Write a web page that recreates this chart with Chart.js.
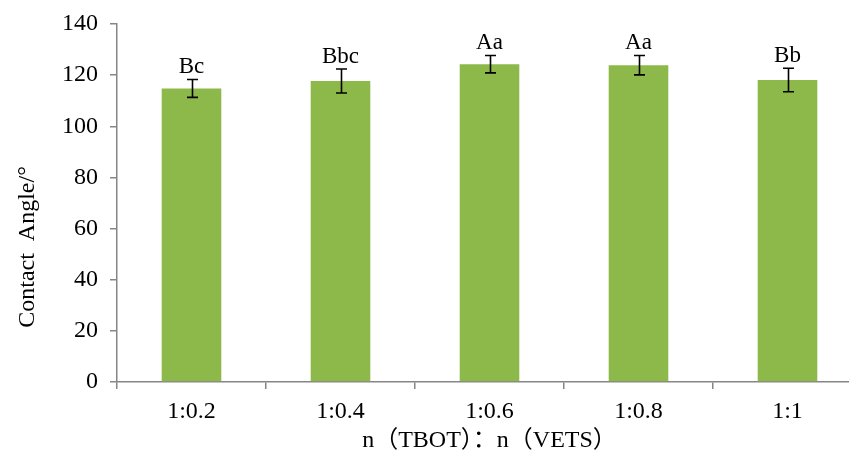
<!DOCTYPE html>
<html>
<head>
<meta charset="utf-8">
<script src="https://cdn.jsdelivr.net/npm/chart.js@4"></script>
<style>
html,body{margin:0;padding:0;background:#fff;overflow:hidden;}
#wrap{width:862px;height:460px;position:relative;}
</style>
</head>
<body>
<div id="wrap"><canvas id="c"></canvas></div>
<script>
const categories = ['1:0.2', '1:0.4', '1:0.6', '1:0.8', '1:1'];
const contactAngle = [114.8, 117.7, 124.3, 123.9, 118.1];
const errorValues = [3.5, 4.7, 3.4, 3.8, 4.6];
const significance = ['Bc', 'Bbc', 'Aa', 'Aa', 'Bb'];
const yTitle = 'Contact  Angle/°';
const xTitle = 'n（TBOT）：n（VETS）';

const FONT = '"Liberation Serif", "Times New Roman", "Noto Sans CJK SC", serif';
const AXIS = '#868686';

const errorPlugin = {
  id: 'errorBars',
  afterDatasetsDraw(chart) {
    const ctx = chart.ctx;
    const meta = chart.getDatasetMeta(0);
    const y = chart.scales.y;
    ctx.save();
    meta.data.forEach((bar, i) => {
      const v = contactAngle[i], e = errorValues[i];
      const yt = y.getPixelForValue(v + e);
      const yb = y.getPixelForValue(v - e);
      const x = Math.round(bar.x) + 0.5;
      ctx.strokeStyle = '#000';
      ctx.lineWidth = 1.6;
      ctx.beginPath();
      ctx.moveTo(x, yt); ctx.lineTo(x, yb);
      ctx.moveTo(x - 5.5, yt); ctx.lineTo(x + 5.5, yt);
      ctx.moveTo(x - 5.5, yb); ctx.lineTo(x + 5.5, yb);
      ctx.stroke();
      ctx.fillStyle = '#000';
      ctx.font = '23px ' + FONT;
      ctx.textAlign = 'center';
      ctx.textBaseline = 'alphabetic';
      ctx.fillText(significance[i], bar.x, yt - 6);
    });
    // y-axis title
    ctx.translate(28, 247);
    ctx.rotate(-Math.PI / 2);
    ctx.font = '24px ' + FONT;
    ctx.textAlign = 'center';
    ctx.textBaseline = 'middle';
    ctx.fillText(yTitle, 0, 0);
    ctx.restore();
  }
};

new Chart(document.getElementById('c'), {
  type: 'bar',
  data: {
    labels: categories,
    datasets: [{
      data: contactAngle,
      backgroundColor: '#8DB94B',
      borderWidth: 0,
      categoryPercentage: 1.0,
      barPercentage: 0.4
    }]
  },
  options: {
    responsive: true,
    maintainAspectRatio: false,
    animation: false,
    events: [],
    layout: { padding: { top: 24, right: 0, bottom: 0, left: 0 } },
    plugins: { legend: { display: false }, tooltip: { enabled: false } },
    scales: {
      x: {
        grid: { display: true, drawOnChartArea: false, offset: true, tickLength: 7, color: AXIS, lineWidth: 1.5 },
        border: { display: true, color: AXIS, width: 1.5 },
        ticks: { color: '#000', font: { family: FONT, size: 24 }, padding: 8, maxRotation: 0 },
        title: { display: true, text: xTitle, color: '#000', font: { family: FONT, size: 24 }, padding: { top: 0, bottom: 5 } },
        afterFit(scale) { scale.height = 78; }
      },
      y: {
        min: 0, max: 140,
        ticks: { stepSize: 20, color: '#000', font: { family: FONT, size: 24, lineHeight: 1 }, padding: 12 },
        grid: { display: true, drawOnChartArea: false, tickLength: 7, color: AXIS, lineWidth: 1.5 },
        border: { display: true, color: AXIS, width: 1.5 },
        afterFit(scale) { scale.width = 117; }
      }
    }
  },
  plugins: [errorPlugin]
});
</script>
</body>
</html>
